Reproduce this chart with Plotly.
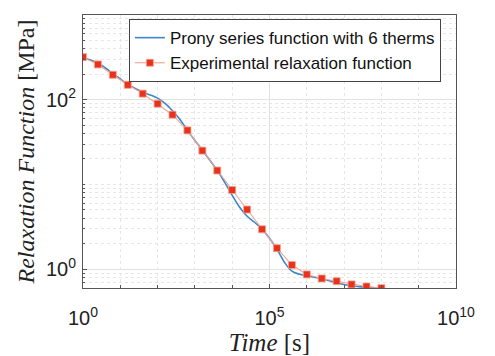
import plotly.graph_objects as go

# Experimental relaxation function (markers)
exp_time = [1, 2.512, 6.310, 15.85, 39.81, 100, 251.2, 631.0, 1585, 3981,
            1.0e4, 2.512e4, 6.310e4, 1.585e5, 3.981e5, 1.0e6, 2.512e6,
            6.310e6, 1.585e7, 3.981e7, 1.0e8]
exp_val = [318, 261, 197, 150, 118, 89.7, 66.6, 43.5, 25.1, 14.6,
           8.6, 5.06, 2.96, 1.77, 1.12, 0.867, 0.777, 0.722, 0.661, 0.625, 0.597]

# Prony series fit
prony_time = [1, 1.585, 2.512, 3.981, 6.310, 10, 15.85, 25.12, 39.81, 63.10,
              100, 158.5, 251.2, 398.1, 631.0, 1000, 1585, 2512, 3981, 6310,
              1.0e4, 1.585e4, 2.512e4, 3.981e4, 6.310e4, 1.0e5, 1.585e5, 2.512e5,
              3.981e5, 6.310e5, 1.0e6, 1.585e6, 2.512e6, 3.981e6, 6.310e6,
              1.0e7, 1.585e7, 2.512e7, 3.981e7, 6.310e7, 1.0e8]
prony_val = [318, 294, 273, 237, 204, 176, 151, 136, 123, 114,
             104.4, 90.4, 74.2, 58.6, 43.5, 33.1, 25.3, 19.3, 14.7, 10.6,
             7.45, 5.38, 4.21, 3.58, 2.96, 2.32, 1.72, 1.21, 0.947, 0.873,
             0.838, 0.805, 0.773, 0.732, 0.693, 0.660, 0.639, 0.622, 0.610, 0.602, 0.597]

x_ticks = [1, 1e5, 1e10]
x_ticktext = ["10<sup>0</sup>", "10<sup>5</sup>", "10<sup>10</sup>"]
y_ticks = [1, 100]
y_ticktext = ["10<sup>0</sup>", "10<sup>2</sup>"]

x_minor = [10 ** k for k in range(1, 10)]
y_minor = [m * 10 ** e for e in (-1, 0, 1, 2) for m in range(2, 10)] + [10, 1000]

fig = go.Figure()
fig.add_trace(go.Scatter(
    x=prony_time, y=prony_val, mode="lines",
    line=dict(color="#3b87cc", width=1.6, shape="spline"),
    name="Prony series function with 6 therms"))
fig.add_trace(go.Scatter(
    x=exp_time, y=exp_val, mode="lines+markers",
    line=dict(color="#f2a48e", width=1.1),
    marker=dict(symbol="square", size=7, color="#e8321e",
                line=dict(color="#f2a48e", width=0.8)),
    name="Experimental relaxation function"))

axis_common = dict(
    type="log", showline=True, mirror=True, linecolor="#555555", linewidth=1,
    ticks="inside", ticklen=4, tickcolor="#555555",
    gridcolor="#e2e2e2", gridwidth=1, zeroline=False, automargin=False,
    tickfont=dict(family="Liberation Sans, Arial", size=20, color="#222222"),
)

fig.update_layout(
    width=495, height=356,
    margin=dict(l=83, r=39, t=15, b=68),
    paper_bgcolor="white", plot_bgcolor="white",
    xaxis=dict(axis_common, range=[0, 10], tickvals=x_ticks, ticktext=x_ticktext,
               ticklabelstandoff=12,
               minor=dict(tickvals=x_minor, showgrid=True, gridcolor="#e6e6e6",
                          griddash="dot", ticks="inside", ticklen=3, tickcolor="#555555"),
               title=dict(text="<i>Time</i> [s]", standoff=0,
                          font=dict(family="Liberation Serif, DejaVu Serif", size=25, color="#222222"))),
    yaxis=dict(axis_common, range=[-0.222, 3.0], tickvals=y_ticks, ticktext=y_ticktext,
               ticklabelstandoff=2,
               minor=dict(tickvals=y_minor, showgrid=True, gridcolor="#e6e6e6",
                          griddash="dot", ticks="inside", ticklen=2, tickcolor="#555555"),
               title=dict(text="<i>Relaxation Function</i> [MPa]", standoff=4,
                          font=dict(family="Liberation Serif, DejaVu Serif", size=24, color="#222222"))),
    legend=dict(x=0.123, y=0.985, xanchor="left", yanchor="top",
                bgcolor="white", bordercolor="#444444", borderwidth=1,
                font=dict(family="Liberation Sans, Arial", size=17, color="#111111"),
                tracegroupgap=0, itemwidth=30),
    showlegend=True,
)

fig.write_html("out.html")
